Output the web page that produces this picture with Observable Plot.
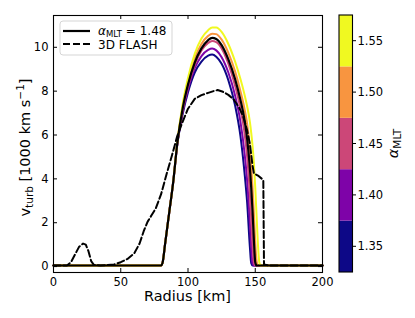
<!DOCTYPE html>
<html><head><meta charset="utf-8">
<script src="https://cdn.jsdelivr.net/npm/d3@7"></script>
<script src="https://cdn.jsdelivr.net/npm/@observablehq/plot@0.6"></script>
<style>body{margin:0;background:#fff;} svg{display:block}</style>
</head><body><div id="chart"></div>
<script>
// ---- data ----
const xTicks = [0, 50, 100, 150, 200];
const yTicks = [0, 2, 4, 6, 8, 10];
const alphaValues = [1.35, 1.40, 1.45, 1.50, 1.55];
const alphaColors = ["#0d0887", "#7e03a8", "#cc4778", "#f89540", "#f0f921"];
const alphaEdges = [1.325, 1.375, 1.425, 1.475, 1.525, 1.575];
const blackAlpha = 1.48;

const radiusGrid = [0, 80, 81, 83, 86, 89, 92, 96, 100, 105, 110, 115, 118, 121, 125, 130, 135, 139, 142, 144, 146, 147, 148, 149, 150, 151, 152, 153, 154, 200];
const v135 = [0.05, 0.05, 0.15, 1.05, 2.45, 3.85, 5.55, 6.95, 7.95, 8.85, 9.35, 9.62, 9.67, 9.57, 9.25, 8.5, 7.35, 5.95, 4.3, 2.9, 0.9, 0.15, 0.05, 0.05, 0.05, 0.05, 0.05, 0.05, 0.05, 0.05];
const v140 = [0.05, 0.05, 0.15, 1.05, 2.45, 3.85, 5.57, 7.05, 8.1, 9.05, 9.6, 9.88, 9.94, 9.86, 9.55, 8.85, 7.8, 6.6, 5.2, 3.9, 2.0, 0.9, 0.15, 0.05, 0.05, 0.05, 0.05, 0.05, 0.05, 0.05];
const v145 = [0.05, 0.05, 0.15, 1.05, 2.45, 3.85, 5.58, 7.12, 8.22, 9.2, 9.85, 10.2, 10.29, 10.24, 9.95, 9.25, 8.25, 7.2, 6.1, 5.0, 3.3, 2.2, 1.0, 0.2, 0.05, 0.05, 0.05, 0.05, 0.05, 0.05];
const v150 = [0.05, 0.05, 0.15, 1.05, 2.45, 3.85, 5.62, 7.3, 8.45, 9.5, 10.15, 10.52, 10.62, 10.6, 10.35, 9.75, 8.9, 8.0, 7.2, 6.5, 5.4, 4.6, 3.6, 2.4, 1.1, 0.25, 0.05, 0.05, 0.05, 0.05];
const v155 = [0.05, 0.05, 0.15, 1.05, 2.45, 3.85, 5.65, 7.4, 8.6, 9.7, 10.4, 10.78, 10.9, 10.9, 10.7, 10.15, 9.35, 8.55, 7.85, 7.3, 6.6, 6.1, 5.5, 4.7, 3.6, 2.3, 1.0, 0.2, 0.05, 0.05];
const v148 = [0.05, 0.05, 0.15, 1.05, 2.45, 3.85, 5.6, 7.2, 8.3, 9.3, 9.95, 10.33, 10.43, 10.38, 10.1, 9.45, 8.55, 7.6, 6.7, 5.8, 4.5, 3.6, 2.5, 1.2, 0.2, 0.05, 0.05, 0.05, 0.05, 0.05];

const flashRadius = [0, 10, 13, 16, 19, 22, 24, 26, 28, 30, 35, 40, 45, 50, 55, 60, 64, 67, 70, 73, 76, 80, 84, 88, 92, 96, 100, 105, 110, 115, 119, 122, 126, 130, 134, 138, 141, 144, 146, 148, 149, 152, 155, 156, 156.5, 160, 200];
const flashV = [0.05, 0.05, 0.2, 0.55, 0.9, 1.05, 1.0, 0.7, 0.25, 0.08, 0.05, 0.07, 0.1, 0.2, 0.35, 0.6, 1.05, 1.6, 2.05, 2.35, 2.65, 3.3, 4.2, 5.05, 5.95, 6.6, 7.2, 7.65, 7.82, 7.92, 8.0, 8.05, 7.97, 7.83, 7.62, 7.25, 6.85, 6.2, 5.6, 4.6, 4.25, 4.15, 4.0, 3.9, 0.1, 0.05, 0.05];

// ---- tables ----
const colored = [v135, v140, v145, v150, v155];
const lineData = colored.flatMap((vals, k) => radiusGrid.map((r, i) => ({r, v: vals[i], a: alphaValues[k], c: alphaColors[k]})));
const blackData = radiusGrid.map((r, i) => ({r, v: v148[i]}));
const flashData = flashRadius.map((r, i) => ({r, v: flashV[i]}));

const W = 415, H = 318, mL = 53, mT = 15, mR = 93, mB = 46;
const fw = W - mL - mR, fh = H - mT - mB, tk = 4;

const plot = Plot.plot({
  width: W, height: H, marginLeft: mL, marginRight: mR, marginTop: mT, marginBottom: mB,
  style: {fontFamily: "DejaVu Sans", fontSize: "11.5px", background: "white", color: "black", overflow: "visible"},
  x: {domain: [0, 200]},
  y: {domain: [-0.27, 11.45]},
  color: {type: "identity"},
  marks: [
    Plot.axisX(xTicks, {tickSize: 0, tickPadding: 5, label: null, fontSize: 11.5}),
    Plot.axisY(yTicks, {tickSize: 0, tickPadding: 5, label: null, fontSize: 11.5}),
    Plot.line(lineData, {x: "r", y: "v", z: "a", stroke: "c", strokeWidth: 2, curve: "monotone-x"}),
    Plot.line(blackData, {x: "r", y: "v", stroke: "black", strokeWidth: 2.2, curve: "monotone-x"}),
    Plot.line(flashData, {x: "r", y: "v", stroke: "black", strokeWidth: 2, strokeDasharray: "7,3", curve: "linear"}),
    Plot.tickX(xTicks, {x: d => d, insetTop: fh - tk, stroke: "black", strokeWidth: 1}),
    Plot.tickX(xTicks, {x: d => d, insetBottom: fh - tk, stroke: "black", strokeWidth: 1}),
    Plot.tickY(yTicks, {y: d => d, insetRight: fw - tk, stroke: "black", strokeWidth: 1}),
    Plot.tickY(yTicks, {y: d => d, insetLeft: fw - tk, stroke: "black", strokeWidth: 1}),
    Plot.frame({stroke: "black", strokeWidth: 1.1})
  ]
});
document.getElementById("chart").appendChild(plot);

const svg = d3.select(plot);
const ns = "DejaVu Sans";

// axis labels
svg.append("text").attr("x", mL + fw / 2).attr("y", 301).attr("text-anchor", "middle")
  .attr("font-family", ns).attr("font-size", 14.5).attr("fill", "black").text("Radius [km]");

const yl = svg.append("text").attr("transform", `translate(30,${mT + fh / 2 + 4}) rotate(-90)`)
  .attr("text-anchor", "middle").attr("font-family", ns).attr("font-size", 14.5).attr("fill", "black");
yl.append("tspan").text("v");
yl.append("tspan").attr("font-size", 10.5).attr("dy", 3).text("turb");
yl.append("tspan").attr("dy", -3).text(" [1000 km s");
yl.append("tspan").attr("font-size", 10.5).attr("dy", -6).text("\u22121");
yl.append("tspan").attr("dy", 6).text("]");

// legend
const lg = svg.append("g").attr("text-anchor", "start");
lg.append("rect").attr("x", 60).attr("y", 21).attr("width", 112).attr("height", 34).attr("rx", 3)
  .attr("fill", "white").attr("fill-opacity", 0.8).attr("stroke", "#d5d5d5").attr("stroke-width", 1);
lg.append("line").attr("x1", 63).attr("x2", 90).attr("y1", 31).attr("y2", 31).attr("stroke", "black").attr("stroke-width", 2.2);
lg.append("line").attr("x1", 63).attr("x2", 90).attr("y1", 44).attr("y2", 44).attr("stroke", "black").attr("stroke-width", 2).attr("stroke-dasharray", "7,3");
const t1 = lg.append("text").attr("x", 98).attr("y", 35).attr("text-anchor", "start").attr("font-family", ns).attr("font-size", 12).attr("fill", "black");
t1.append("tspan").attr("font-style", "italic").text("\u03b1");
t1.append("tspan").attr("font-size", 8.5).attr("dy", 2).text("MLT");
t1.append("tspan").attr("dy", -2).text(" = " + blackAlpha.toFixed(2));
lg.append("text").attr("x", 98).attr("y", 48.5).attr("text-anchor", "start").attr("font-family", ns).attr("font-size", 12).attr("fill", "black").text("3D FLASH");

// colorbar
const cbX = 339, cbW = 13.5;
const cbY = d3.scaleLinear().domain([alphaEdges[0], alphaEdges[alphaEdges.length - 1]]).range([mT + fh, mT]);
const cb = svg.append("g").attr("text-anchor", "start");
alphaValues.forEach((a, i) => {
  cb.append("rect").attr("x", cbX).attr("width", cbW)
    .attr("y", cbY(alphaEdges[i + 1])).attr("height", cbY(alphaEdges[i]) - cbY(alphaEdges[i + 1]))
    .attr("fill", alphaColors[i]);
  cb.append("line").attr("x1", cbX + cbW).attr("x2", cbX + cbW + 3.5).attr("y1", cbY(a)).attr("y2", cbY(a)).attr("stroke", "black");
  cb.append("text").attr("x", cbX + cbW + 5).attr("y", cbY(a)).attr("dy", "0.36em").attr("text-anchor", "start")
    .attr("font-family", ns).attr("font-size", 11.5).attr("fill", "black").text(a.toFixed(2));
});
cb.append("rect").attr("x", cbX).attr("width", cbW).attr("y", mT).attr("height", fh)
  .attr("fill", "none").attr("stroke", "black").attr("stroke-width", 1.1);
const cl = svg.append("text").attr("transform", `translate(398,${mT + fh / 2}) rotate(-90)`)
  .attr("text-anchor", "middle").attr("font-family", ns).attr("font-size", 14.5).attr("fill", "black");
cl.append("tspan").attr("font-style", "italic").text("\u03b1");
cl.append("tspan").attr("font-size", 10.5).attr("dy", 3).text("MLT");
</script>
</body></html>
